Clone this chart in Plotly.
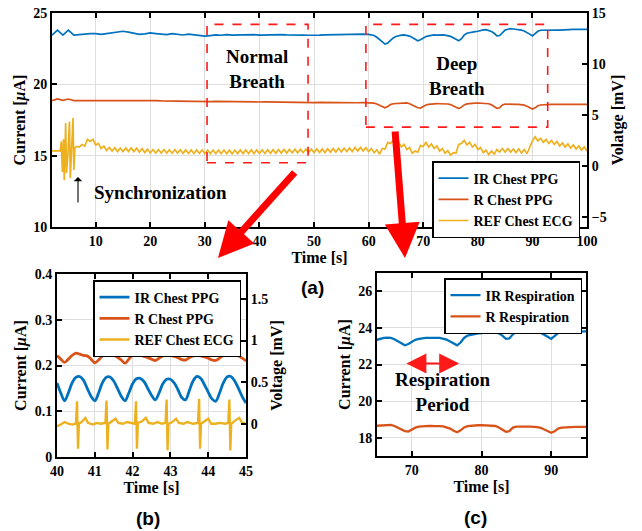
import plotly.graph_objects as go

W, H = 642, 531
BLUE, ORANGE, YELLOW = "#0072BD", "#D95319", "#EDB120"
SERIF = "Liberation Serif"

# ---------------- Panel (a) data ----------------
T_PPG_A = [float(t) for t in range(2, 60)] + [60 + 0.5 * i for i in range(81)]
IR_CHEST = [
    23.45, 23.80, 23.45, 23.80, 23.45, 23.50, 23.52, 23.55, 23.55, 23.50,
    23.55, 23.62, 23.70, 23.72, 23.66, 23.56, 23.50, 23.54, 23.60, 23.56,
    23.50, 23.48, 23.55, 23.52, 23.46, 23.52, 23.48, 23.42, 23.38, 23.42,
    23.46, 23.44, 23.48, 23.45, 23.47, 23.44, 23.46, 23.48, 23.45, 23.47,
    23.44, 23.46, 23.48, 23.46, 23.44, 23.47, 23.45, 23.44, 23.42, 23.45,
    23.47, 23.48, 23.50, 23.48, 23.50, 23.52, 23.50, 23.52,
    # 60.0 .. 100.0 step 0.5
    23.50, 23.48, 23.42, 23.30, 23.12, 22.95, 22.82, 22.90, 23.08, 23.25,
    23.35, 23.42, 23.45, 23.47, 23.45, 23.38, 23.28, 23.15, 23.05, 23.12,
    23.25, 23.35, 23.40, 23.44, 23.46, 23.45, 23.47, 23.46, 23.45, 23.42,
    23.36, 23.26, 23.14, 23.05, 23.20, 23.45, 23.58, 23.63, 23.67, 23.70,
    23.72, 23.78, 23.82, 23.83, 23.78, 23.70, 23.58, 23.40, 23.42, 23.65,
    23.80, 23.86, 23.90, 23.88, 23.86, 23.84, 23.80, 23.74, 23.65, 23.52,
    23.40, 23.55, 23.72, 23.79, 23.80, 23.82, 23.80, 23.82, 23.80, 23.81,
    23.80, 23.82, 23.83, 23.84, 23.84, 23.85, 23.86, 23.85, 23.86, 23.86,
    23.85,
]
R_CHEST = [
    18.85, 18.98, 18.88, 18.97, 18.86, 18.86, 18.87, 18.88, 18.88, 18.87,
    18.88, 18.89, 18.90, 18.90, 18.88, 18.86, 18.85, 18.86, 18.87, 18.86,
    18.84, 18.83, 18.84, 18.83, 18.81, 18.82, 18.81, 18.79, 18.78, 18.79,
    18.80, 18.79, 18.80, 18.79, 18.78, 18.77, 18.78, 18.77, 18.76, 18.77,
    18.76, 18.75, 18.76, 18.75, 18.74, 18.75, 18.74, 18.73, 18.72, 18.73,
    18.72, 18.72, 18.73, 18.72, 18.71, 18.72, 18.71, 18.72,
    # 60.0 .. 100.0 step 0.5
    18.71, 18.70, 18.68, 18.62, 18.52, 18.42, 18.36, 18.45, 18.58, 18.64,
    18.66, 18.68, 18.70, 18.71, 18.70, 18.64, 18.55, 18.45, 18.36, 18.34,
    18.45, 18.55, 18.60, 18.63, 18.65, 18.65, 18.64, 18.65, 18.63, 18.62,
    18.58, 18.50, 18.38, 18.30, 18.40, 18.56, 18.63, 18.66, 18.68, 18.68,
    18.69, 18.68, 18.67, 18.66, 18.64, 18.56, 18.44, 18.32, 18.36, 18.55,
    18.61, 18.62, 18.62, 18.61, 18.60, 18.60, 18.58, 18.54, 18.46, 18.36,
    18.27, 18.35, 18.50, 18.55, 18.57, 18.58, 18.58, 18.59, 18.59, 18.60,
    18.60, 18.60, 18.60, 18.61, 18.60, 18.60, 18.61, 18.60, 18.60, 18.60,
    18.59,
]
ECG_SYNC_T = [2.0, 2.5, 3.0, 3.5, 3.7, 3.9, 4.1, 4.25, 4.5, 4.65, 4.9, 5.2,
              5.35, 5.6, 5.85, 6.0, 6.2, 6.6, 7.0]
ECG_SYNC_V = [1.5, 1.45, 1.5, 1.45, 2.4, -0.6, 2.6, -1.4, 4.2, -0.7, 1.0, 4.35,
              -1.2, 1.5, 4.7, -0.4, 1.8, 1.9, 1.85]
T_ECG_A = ECG_SYNC_T + [7.5 + 0.5 * i for i in range(186)]
ECG_CHEST = ECG_SYNC_V + [
    2.10, 1.95, 2.60, 2.40, 2.60, 2.05, 2.20, 1.70, 1.95, 1.50,
    1.82, 1.45, 1.78, 1.41, 1.75, 1.40, 1.75, 1.40, 1.75, 1.40,
    1.73, 1.35, 1.68, 1.30, 1.63, 1.27, 1.60, 1.25, 1.60, 1.25,
    1.60, 1.25, 1.58, 1.24, 1.60, 1.25, 1.58, 1.23, 1.57, 1.22,
    1.57, 1.22, 1.57, 1.22, 1.56, 1.21, 1.55, 1.20, 1.55, 1.20,
    1.55, 1.20, 1.55, 1.20, 1.54, 1.19, 1.55, 1.20, 1.56, 1.20,
    1.56, 1.21, 1.56, 1.21, 1.57, 1.22, 1.57, 1.22, 1.58, 1.23,
    1.59, 1.24, 1.60, 1.25, 1.61, 1.26, 1.62, 1.27, 1.63, 1.28,
    1.64, 1.29, 1.65, 1.30, 1.65, 1.30, 1.66, 1.31, 1.66, 1.31,
    1.68, 1.33, 1.70, 1.35, 1.72, 1.37, 1.74, 1.39, 1.76, 1.41,
    1.80, 1.45, 1.80, 1.45, 1.78, 1.40, 1.70, 1.30, 1.58, 1.15,
    1.70, 1.65, 2.30, 2.20, 2.50, 2.05, 2.30, 1.85, 2.10, 1.60,
    1.80, 1.25, 1.45, 1.35, 2.00, 1.90, 2.30, 1.85, 2.15, 1.70,
    1.95, 1.45, 1.70, 1.25, 1.50, 1.05, 1.30, 1.25, 2.10, 2.20,
    2.50, 2.05, 2.30, 1.85, 2.10, 1.60, 1.80, 1.30, 1.55, 1.10,
    1.45, 1.15, 1.60, 1.35, 1.70, 1.35, 1.70, 1.35, 1.65, 1.30,
    1.65, 1.25, 1.60, 1.20, 1.80, 2.45, 2.85, 2.45, 2.70, 2.30,
    2.60, 2.20, 2.50, 2.10, 2.40, 1.95, 2.25, 1.85, 2.15, 1.75,
    2.05, 1.65, 1.95, 1.55, 1.85, 1.45,
]

# ---------------- Panel (b) data ----------------
T_B = [40 + 0.1 * i for i in range(51)]
IR_B = [
    0.162, 0.140, 0.123, 0.140, 0.162, 0.174, 0.176, 0.168, 0.150, 0.133,
    0.123, 0.140, 0.162, 0.174, 0.175, 0.166, 0.150, 0.133, 0.123, 0.140,
    0.160, 0.171, 0.172, 0.165, 0.150, 0.135, 0.125, 0.140, 0.160, 0.170,
    0.170, 0.162, 0.147, 0.130, 0.125, 0.145, 0.166, 0.176, 0.172, 0.158,
    0.142, 0.127, 0.122, 0.140, 0.162, 0.175, 0.176, 0.166, 0.150, 0.132,
    0.118,
]
R_B = [
    0.222, 0.214, 0.207, 0.214, 0.222, 0.227, 0.225, 0.222, 0.221, 0.214,
    0.206, 0.212, 0.221, 0.226, 0.227, 0.223, 0.218, 0.212, 0.205, 0.214,
    0.223, 0.226, 0.223, 0.220, 0.217, 0.214, 0.211, 0.216, 0.221, 0.223,
    0.222, 0.220, 0.217, 0.213, 0.212, 0.217, 0.221, 0.222, 0.221, 0.219,
    0.216, 0.212, 0.211, 0.216, 0.222, 0.223, 0.222, 0.222, 0.221, 0.216,
    0.210,
]
T_ECG_B = [
    40.00, 40.10, 40.20, 40.30, 40.40, 40.50, 40.53, 40.555, 40.58, 40.65,
    40.75, 40.82, 40.95, 41.05, 41.15, 41.28, 41.31, 41.335, 41.36, 41.45,
    41.55, 41.62, 41.75, 41.85, 41.95, 42.06, 42.09, 42.115, 42.14, 42.25,
    42.35, 42.42, 42.55, 42.65, 42.78, 42.87, 42.90, 42.925, 42.95, 43.05,
    43.15, 43.22, 43.35, 43.45, 43.60, 43.73, 43.76, 43.785, 43.81, 43.90,
    44.00, 44.08, 44.20, 44.30, 44.45, 44.53, 44.56, 44.585, 44.61, 44.72,
    44.82, 44.90, 45.00,
]
ECG_B = [
    -0.03, -0.01, 0.02, 0.00, -0.01, 0.00, 0.27, -0.30, 0.00, 0.02,
    0.07, 0.01, -0.01, 0.01, 0.00, 0.01, 0.28, -0.31, 0.00, 0.03,
    0.06, 0.01, 0.00, 0.02, 0.01, 0.00, 0.27, -0.30, 0.01, 0.03,
    0.07, 0.01, 0.00, 0.02, 0.00, 0.01, 0.29, -0.32, 0.00, 0.02,
    0.06, 0.01, 0.00, 0.02, 0.00, 0.01, 0.30, -0.30, 0.00, 0.03,
    0.06, 0.00, 0.00, 0.01, 0.00, 0.01, 0.29, -0.32, 0.00, 0.04,
    0.07, 0.01, 0.00,
]

# ---------------- figure ----------------
def px(x):
    return x / W

def py(y):
    return 1 - y / H

tickf = dict(family=SERIF, size=14, color="black", weight="bold")
titlef = dict(family=SERIF, size=16, color="black", weight="bold")
legf = dict(family=SERIF, size=14, color="black", weight="bold")

fig = go.Figure()

# (a)
fig.add_trace(go.Scatter(x=T_PPG_A, y=IR_CHEST, mode="lines", name="IR Chest PPG",
                         line=dict(color=BLUE, width=1.7), xaxis="x", yaxis="y", legend="legend"))
fig.add_trace(go.Scatter(x=T_PPG_A, y=R_CHEST, mode="lines", name="R Chest PPG",
                         line=dict(color=ORANGE, width=1.7), xaxis="x", yaxis="y", legend="legend"))
fig.add_trace(go.Scatter(x=T_ECG_A, y=ECG_CHEST, mode="lines", name="REF Chest ECG",
                         line=dict(color=YELLOW, width=1.7), xaxis="x", yaxis="y2", legend="legend"))
# (b)
fig.add_trace(go.Scatter(x=T_B, y=IR_B, mode="lines", name="IR Chest PPG", line_shape="spline",
                         line=dict(color=BLUE, width=2.8), xaxis="x2", yaxis="y3", legend="legend2"))
fig.add_trace(go.Scatter(x=T_B, y=R_B, mode="lines", name="R Chest PPG", line_shape="spline",
                         line=dict(color=ORANGE, width=2.8), xaxis="x2", yaxis="y3", legend="legend2"))
fig.add_trace(go.Scatter(x=T_ECG_B, y=ECG_B, mode="lines", name="REF Chest ECG",
                         line=dict(color=YELLOW, width=2.3), xaxis="x2", yaxis="y4", legend="legend2"))
# (c)
fig.add_trace(go.Scatter(x=T_PPG_A, y=IR_CHEST, mode="lines", name="IR Respiration",
                         line=dict(color=BLUE, width=2.3), xaxis="x3", yaxis="y5", legend="legend3"))
fig.add_trace(go.Scatter(x=T_PPG_A, y=R_CHEST, mode="lines", name="R Respiration",
                         line=dict(color=ORANGE, width=2.3), xaxis="x3", yaxis="y5", legend="legend3"))

common = dict(ticks="inside", ticklen=5, tickwidth=1.5, tickcolor="black", showline=True,
              linecolor="black", linewidth=2, zeroline=False, tickfont=tickf,
              automargin=False, gridcolor="#dedede", gridwidth=1)

leg_common = dict(xanchor="left", yanchor="top", bgcolor="white", bordercolor="black",
                  borderwidth=1.5, font=legf, tracegroupgap=0, itemwidth=30)

fig.update_layout(
    width=W, height=H, margin=dict(l=0, r=0, t=0, b=0),
    paper_bgcolor="white", plot_bgcolor="white", showlegend=True,
    xaxis=dict(domain=[px(52), px(587)], range=[2, 100], anchor="y",
               tickvals=[10, 20, 30, 40, 50, 60, 70, 80, 90, 100], mirror="ticks",
               showgrid=True, title=dict(text="Time [s]", font=titlef, standoff=2), **common),
    yaxis=dict(domain=[py(227), py(13)], range=[10, 25], anchor="x",
               tickvals=[10, 15, 20, 25], showgrid=True, mirror=False,
               title=dict(text="Current [<i>μ</i>A]", font=titlef, standoff=4), **common),
    yaxis2=dict(range=[-6, 15], overlaying="y", side="right", anchor="x",
                tickvals=[-5, 0, 5, 10, 15], showgrid=False,
                title=dict(text="Volatge [mV]", font=titlef, standoff=6), **common),
    xaxis2=dict(domain=[px(57), px(246)], range=[40, 45], anchor="y3",
                tickvals=[40, 41, 42, 43, 44, 45], mirror="ticks", showgrid=True,
                title=dict(text="Time [s]", font=titlef, standoff=2), **common),
    yaxis3=dict(domain=[py(457), py(274)], range=[0, 0.4], anchor="x2",
                tickvals=[0, 0.1, 0.2, 0.3, 0.4], ticktext=["0", "0.1", "0.2", "0.3", "0.4"],
                showgrid=True, mirror=False,
                title=dict(text="Current [<i>μ</i>A]", font=titlef, standoff=4), **common),
    yaxis4=dict(range=[-0.4, 1.8], overlaying="y3", side="right", anchor="x2",
                tickvals=[0, 0.5, 1, 1.5], ticktext=["0", "0.5", "1", "1.5"], showgrid=False,
                title=dict(text="Voltage [mV]", font=titlef, standoff=4), **common),
    xaxis3=dict(domain=[px(377), px(586)], range=[65, 95], anchor="y5",
                tickvals=[70, 80, 90], mirror="ticks", showgrid=True,
                title=dict(text="Time [s]", font=titlef, standoff=2), **common),
    yaxis5=dict(domain=[py(456), py(273)], range=[17, 27], anchor="x3",
                tickvals=[18, 20, 22, 24, 26], mirror="ticks", showgrid=True,
                title=dict(text="Current [<i>μ</i>A]", font=titlef, standoff=4), **common),
    legend=dict(x=px(432), y=py(161), **leg_common),
    legend2=dict(x=px(93), y=py(280), **leg_common),
    legend3=dict(x=px(444), y=py(278), **leg_common),
)

# dashed boxes
for x0, x1, y0, y1 in [(30.4, 48.9, 14.5, 24.2), (59.5, 92.8, 17.0, 24.2)]:
    fig.add_shape(type="rect", xref="x", yref="y", x0=x0, x1=x1, y0=y0, y1=y1,
                  line=dict(color="#FF1A1A", width=1.6, dash="dash"))

textf = dict(family=SERIF, size=19, color="black", weight="bold")
fig.add_annotation(xref="x", yref="y", x=39.6, y=21.1, text="Normal<br>Breath",
                   showarrow=False, font=textf, align="center",
                   xanchor="center", yanchor="middle")
fig.add_annotation(xref="x", yref="y", x=76.1, y=20.56, text="Deep<br>Breath",
                   showarrow=False, font=textf, align="center",
                   xanchor="center", yanchor="middle")
fig.add_annotation(xref="paper", yref="paper", x=px(92), y=py(192.5), text="Synchronization",
                   showarrow=False, font=textf, xanchor="left", yanchor="middle")
# sync arrow
fig.add_annotation(xref="paper", yref="paper", x=px(78), y=py(177), ax=0, ay=27,
                   showarrow=True, arrowhead=1, arrowsize=1.3, arrowwidth=1.1,
                   arrowcolor="black", text="")
# respiration period
fig.add_annotation(xref="x3", yref="y5", x=76.8, y=22.05, ax=69.0, ay=22.05,
                   axref="x3", ayref="y5", showarrow=True, arrowhead=2, arrowsize=2.0,
                   arrowwidth=2, arrowcolor="#FF1A1A", arrowside="end+start", text="")
fig.add_annotation(xref="paper", yref="paper", x=px(442), y=py(391.5),
                   text="Respiration<br>Period", showarrow=False, font=textf, align="center",
                   xanchor="center", yanchor="middle")

# big red arrows
fig.add_annotation(xref="paper", yref="paper", x=px(218), y=py(258), ax=78, ay=-87,
                   showarrow=True, arrowhead=2, arrowsize=1.0, arrowwidth=7,
                   arrowcolor="#FF0000", text="")
fig.add_annotation(xref="paper", yref="paper", x=px(405), y=py(258), ax=-10, ay=-128,
                   showarrow=True, arrowhead=2, arrowsize=1.0, arrowwidth=7,
                   arrowcolor="#FF0000", text="")

labf = dict(family="Liberation Sans", size=19, color="black", weight="bold")
for lx, ly, lt in [(312, 287, "(a)"), (148, 518, "(b)"), (475, 517, "(c)")]:
    fig.add_annotation(xref="paper", yref="paper", x=px(lx), y=py(ly), text=lt,
                       showarrow=False, font=labf, xanchor="center", yanchor="middle")

fig.write_html("out.html", config={"displayModeBar": False},
               post_script="document.body.style.margin='0px';")
